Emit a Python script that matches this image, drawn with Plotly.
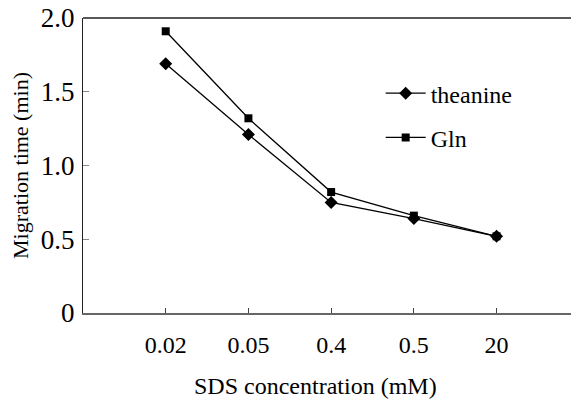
import plotly.graph_objects as go

categories = ["0.02", "0.05", "0.4", "0.5", "20"]
theanine = [1.69, 1.21, 0.75, 0.64, 0.52]
gln = [1.91, 1.32, 0.82, 0.66, 0.52]
ytick_vals = [0, 0.5, 1.0, 1.5, 2.0]
ytick_text = ["0", "0.5", "1.0", "1.5", "2.0"]

xpos = list(range(1, len(categories) + 1))
FONT = "Liberation Serif"

fig = go.Figure()
fig.add_trace(go.Scatter(
    x=xpos, y=theanine, name="theanine", mode="lines+markers",
    line=dict(color="black", width=1.3),
    marker=dict(symbol="diamond", size=10, color="black"),
    legendgroup="a",
))
fig.add_trace(go.Scatter(
    x=xpos, y=gln, name="Gln", mode="lines+markers",
    line=dict(color="black", width=1.3),
    marker=dict(symbol="square", size=8, color="black"),
    legendgroup="b",
))

fig.update_layout(
    width=571, height=400,
    margin=dict(l=83, r=0, t=18, b=87),
    paper_bgcolor="white", plot_bgcolor="white",
    font=dict(family=FONT, color="black", size=20),
    showlegend=True,
    legend=dict(
        x=0.61, y=0.82, xanchor="left", yanchor="top",
        font=dict(family=FONT, size=24, color="black"),
        bgcolor="rgba(0,0,0,0)", tracegroupgap=10, itemwidth=40,
    ),
    xaxis=dict(
        range=[0, 5.9], tickvals=xpos, ticktext=categories,
        showgrid=False, zeroline=False,
        showline=True, linecolor="#666666", linewidth=2,
        ticks="inside", ticklen=5, tickcolor="#444444", tickwidth=1,
        tickfont=dict(family=FONT, size=24, color="black"),
        ticklabelstandoff=9,
    ),
    yaxis=dict(
        range=[0, 2.0], tickvals=ytick_vals, ticktext=ytick_text,
        showgrid=False, zeroline=False,
        showline=True, linecolor="#222222", linewidth=1.3,
        ticks="inside", ticklen=6, tickcolor="#888888", tickwidth=1,
        tickfont=dict(family=FONT, size=27, color="black"),
        ticklabelstandoff=2,
        title=dict(text="Migration time (min)", font=dict(family=FONT, size=22, color="black"), standoff=6),
    ),
)
fig.add_annotation(
    text="SDS concentration (mM)", xref="paper", yref="paper",
    x=0.5, y=0, xshift=-12, yshift=-73, yanchor="middle", showarrow=False,
    font=dict(family=FONT, size=24, color="black"),
)
fig.add_shape(type="line", xref="paper", yref="paper", x0=0, x1=1, y0=1, y1=1,
              line=dict(color="#222222", width=1.3))

fig.write_html("out.html")
